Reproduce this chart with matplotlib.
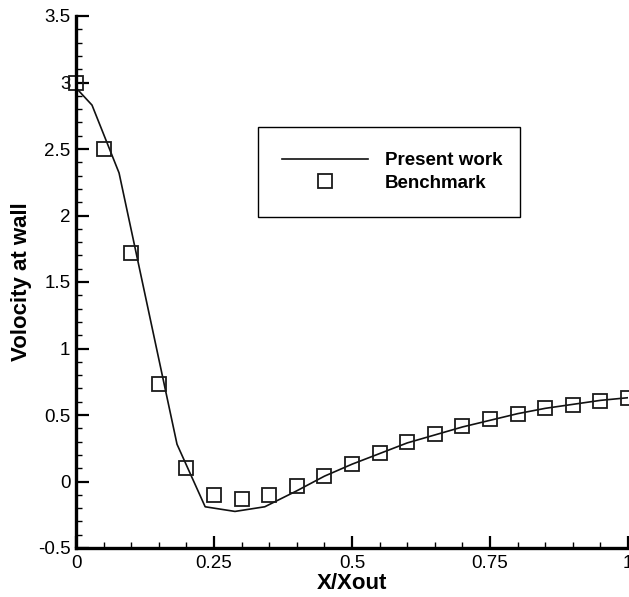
import matplotlib
matplotlib.use("Agg")
import matplotlib.pyplot as plt
from matplotlib.ticker import MultipleLocator
from matplotlib.patches import Rectangle

# Present work: computed wall velocity (polyline vertices)
present_x = [0.0, 0.029, 0.078, 0.183, 0.234, 0.288, 0.342, 0.40, 0.45, 0.50,
             0.55, 0.60, 0.65, 0.70, 0.75, 0.80, 0.85, 0.90, 0.95, 1.00]
present_y = [2.96, 2.83, 2.32, 0.28, -0.19, -0.225, -0.19, -0.07, 0.04, 0.13,
             0.21, 0.29, 0.35, 0.41, 0.46, 0.51, 0.55, 0.58, 0.61, 0.63]

# Benchmark: reference solution
bench_x = [0.0, 0.05, 0.10, 0.15, 0.20, 0.25, 0.30, 0.35, 0.40, 0.45, 0.50,
           0.55, 0.60, 0.65, 0.70, 0.75, 0.80, 0.85, 0.90, 0.95, 1.00]
bench_y = [3.00, 2.50, 1.72, 0.73, 0.10, -0.10, -0.13, -0.10, -0.035, 0.045, 0.135,
           0.215, 0.295, 0.355, 0.415, 0.47, 0.51, 0.55, 0.575, 0.605, 0.625]

x_ticks = [0, 0.25, 0.5, 0.75, 1]
x_tick_labels = ["0", "0.25", "0.5", "0.75", "1"]
y_ticks = [-0.5, 0, 0.5, 1, 1.5, 2, 2.5, 3, 3.5]
y_tick_labels = ["-0.5", "0", "0.5", "1", "1.5", "2", "2.5", "3", "3.5"]

plt.rcParams["font.family"] = ["Liberation Sans", "DejaVu Sans"]

W, H = 629, 597
fig = plt.figure(figsize=(W / 100, H / 100), dpi=100)
ax = fig.add_axes([76 / W, 1 - 548 / H, (628 - 76) / W, (548 - 16) / H])

ax.plot(present_x, present_y, color="#111111", lw=1.2, label="Present work")
ax.plot(bench_x, bench_y, ls="none", marker="s", ms=10, mfc="none",
        mec="#1a1a1a", mew=1.3, label="Benchmark", clip_on=False)

ax.set_xlim(0, 1)
ax.set_ylim(-0.5, 3.5)
ax.set_xticks(x_ticks)
ax.set_xticklabels(x_tick_labels)
ax.set_yticks(y_ticks)
ax.set_yticklabels(y_tick_labels)
ax.xaxis.set_minor_locator(MultipleLocator(0.05))
ax.yaxis.set_minor_locator(MultipleLocator(0.1))

ax.tick_params(which="major", direction="in", length=9, width=1.6,
               labelsize=13.5, pad=4, color="black")
ax.tick_params(which="minor", direction="in", length=4.5, width=1.0, color="black")
ax.tick_params(axis="x", which="major", pad=5)
ax.tick_params(axis="y", which="both", left=True, right=False)
ax.tick_params(axis="x", which="both", bottom=True, top=False)

for side in ("top", "right"):
    ax.spines[side].set_visible(False)
for side in ("left", "bottom"):
    ax.spines[side].set_linewidth(2.4)

ax.set_xlabel("X/Xout", fontsize=16, fontweight="bold", labelpad=1)
ax.set_ylabel("Volocity at wall", fontsize=16, fontweight="bold", labelpad=4)

# Legend with a plain rectangular frame
fig.patches.append(Rectangle((258 / W, 1 - 217 / H), (520 - 258) / W, (217 - 127) / H,
                             transform=fig.transFigure, fill=False,
                             edgecolor="black", lw=1.0))
ax.legend(loc="upper left", bbox_to_anchor=(282 / W, 1 - 152 / H),
          bbox_transform=fig.transFigure, frameon=False, borderpad=0,
          handlelength=4.6, handletextpad=0.9, labelspacing=0.3,
          prop={"weight": "bold", "size": 13.5}, borderaxespad=0)

fig.savefig("out.png", dpi=100)
